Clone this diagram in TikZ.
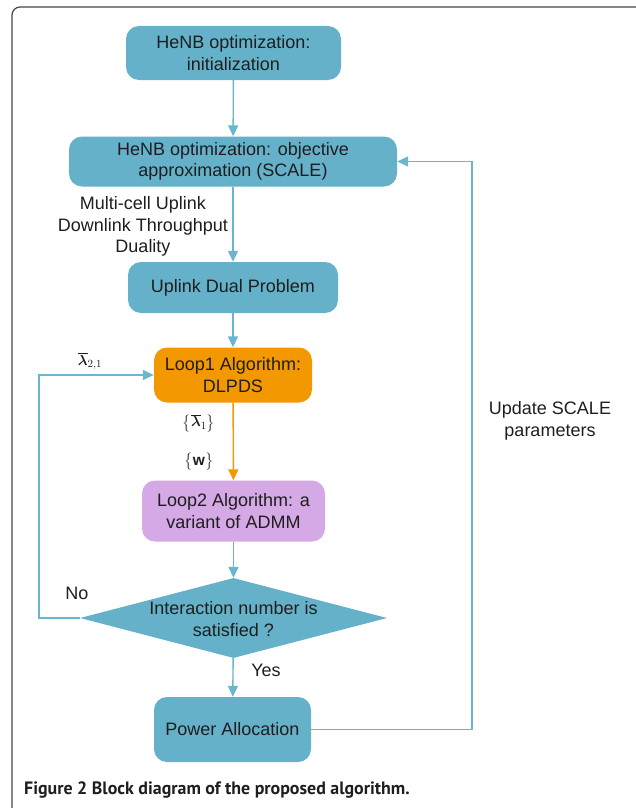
\documentclass[tikz,border=0pt]{standalone}
\usepackage{fontspec}
\usepackage{amsmath,bm}
\setmainfont{Liberation Sans}
\newfontfamily\capfont{PT Sans}
\usetikzlibrary{shapes.geometric,arrows.meta}
\definecolor{tealbox}{HTML}{66B1CA}
\definecolor{tealline}{HTML}{6AB6CE}
\definecolor{orangebox}{HTML}{F39800}
\definecolor{violetbox}{HTML}{D5A8E6}
\definecolor{txt}{HTML}{1E1E1E}
\definecolor{framec}{HTML}{444444}
\tikzset{
  blk/.style={draw=none, rounded corners=13pt, align=center, text=txt,
    font=\fontsize{18}{21.5}\selectfont, inner sep=0pt},
  conn/.style={draw=tealline, line width=1.4pt, -{Triangle[length=11pt,width=10pt]}},
  lbl/.style={text=txt, font=\fontsize{18}{21.5}\selectfont, align=center, inner sep=0pt},
  mlbl/.style={text=txt, font=\fontsize{15.5}{18}\selectfont, inner sep=0pt},
}
\begin{document}
\begin{tikzpicture}[x=1pt,y=-1pt]
\useasboundingbox (0,0) rectangle (635,808);
\draw[framec, line width=1.2pt, rounded corners=8pt] (12,810) -- (12,7) -- (640,7);

\node[blk, fill=tealbox, minimum width=215pt, minimum height=54pt] (b1) at (233.5,53) {HeNB optimization:\\initialization};
\node[blk, fill=tealbox, minimum width=328pt, minimum height=50pt] (b2) at (233,161.5) {HeNB optimization: objective\\approximation (SCALE)};
\node[blk, fill=tealbox, minimum width=210pt, minimum height=51pt] (b3) at (233,287.5) {Uplink Dual Problem};
\node[blk, fill=orangebox, minimum width=158pt, minimum height=55pt] (b4) at (233,375) {Loop1 Algorithm:\\DLPDS};
\node[blk, fill=violetbox, minimum width=183pt, minimum height=61pt] (b5) at (233.5,511) {Loop2 Algorithm: a\\variant of ADMM};
\node[draw=none, fill=tealbox, shape=diamond, minimum width=307pt, minimum height=80pt, inner sep=0pt] (dia) at (233.5,618) {};
\node[lbl] (diat) at (233.5,619) {Interaction number is\\satisfied ?};
\node[blk, fill=tealbox, minimum width=157pt, minimum height=65pt] (b6) at (232.5,729.5) {Power Allocation};

\coordinate (lc1) at (39,618);
\coordinate (lc2) at (39,375);
\coordinate (rc1) at (472,729.5);
\coordinate (rc2) at (472,161.5);

\draw[conn] (b1) -- (b2);
\draw[conn] (b2) -- (b3);
\draw[conn] (b3) -- (b4);
\draw[conn, draw=orangebox] (b4) -- (b5);
\draw[conn] (b5) -- (dia);
\draw[conn] (dia) -- (b6);
\draw[conn] (dia.west) -- (lc1) -- (lc2) -- (b4.west);
\draw[conn] (b6.east) -- (rc1) -- (rc2) -- (b2.east);

\node[lbl] (dual) at (143,226.5) {Multi-cell Uplink\\Downlink Throughput\\Duality};
\node[lbl] (upd) at (550,421) {Update SCALE\\parameters};
\node[lbl] (no) at (77,593) {No};
\node[lbl] (yes) at (266,670) {Yes};
\node[mlbl] (lam21) at (90,361) {$\overline{\bm\lambda}_{2,1}$};
\node[mlbl] (lam1) at (199,423) {$\bigl\{\overline{\bm\lambda}_{1}\bigr\}$};
\node[mlbl] (wset) at (199,462) {$\bigl\{\mathbf{w}\bigr\}$};

\node[anchor=base west, inner sep=0pt, text=txt, font=\capfont\bfseries\fontsize{17.9}{21}\selectfont] (cap) at (24,794) {Figure 2 Block diagram of the proposed algorithm.};
\end{tikzpicture}
\end{document}
